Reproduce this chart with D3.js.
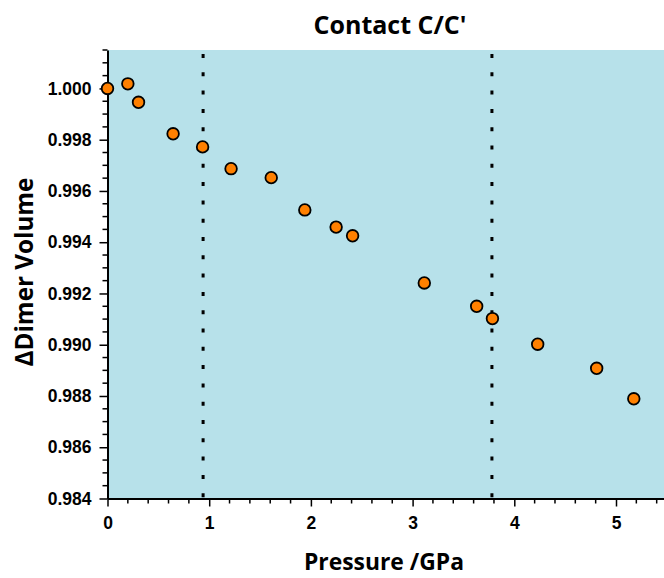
<!DOCTYPE html>
<html>
<head>
<meta charset="utf-8">
<script src="https://cdn.jsdelivr.net/npm/d3@7/dist/d3.min.js"></script>
<style>
html,body{margin:0;padding:0;background:#fff;overflow:hidden;}
svg{display:block;}
</style>
</head>
<body>
<svg id="chart" width="664" height="578"></svg>
<script>
const pressure = [0, 0.20, 0.305, 0.645, 0.935, 1.215, 1.61, 1.94, 2.248, 2.41, 3.115, 3.63, 3.785, 4.23, 4.81, 5.175];
const dimerVolume = [1.0000, 1.00018, 0.99946, 0.99823, 0.99772, 0.99687, 0.99652, 0.99526, 0.99459, 0.99425, 0.99241, 0.99150, 0.99102, 0.99002, 0.98908, 0.98789];
const phaseBoundaries = [0.94, 3.78];
const xTicks = [0, 1, 2, 3, 4, 5];
const yTicks = [0.984, 0.986, 0.988, 0.990, 0.992, 0.994, 0.996, 0.998, 1.000];
const titleText = "Contact C/C'";
const xLabel = "Pressure /GPa";
const yLabel = "\u0394Dimer Volume";

const svg = d3.select("#chart");
const mLeft = 107.5, mTop = 50, mBottom = 498.5;
const x = d3.scaleLinear().domain([0, 5.5]).range([mLeft, mLeft + 5.5 * 101.7]);
const y = d3.scaleLinear().domain([0.984, 1.0015]).range([mBottom, mTop]);

// background
svg.append("rect")
  .attr("x", x(0)).attr("y", y(1.0015))
  .attr("width", x(5.5) - x(0)).attr("height", y(0.984) - y(1.0015))
  .attr("fill", "#b7e1ea");

// dotted vertical lines
svg.selectAll("line.vb").data(phaseBoundaries).enter().append("line")
  .attr("class", "vb")
  .attr("x1", d => x(d)).attr("x2", d => x(d))
  .attr("y1", y(1.0015) + 4).attr("y2", y(0.984))
  .attr("stroke", "#000").attr("stroke-width", 3)
  .attr("stroke-dasharray", "4,14.3");

// minor ticks
const xMinor = d3.range(0, 5.51, 0.2).map(v => +v.toFixed(2)).filter(v => Math.abs(v - Math.round(v)) > 1e-6);
const yMinor = d3.range(0.984, 1.0016, 0.0005).map(v => +v.toFixed(4)).filter(v => Math.abs(v*500 - Math.round(v*500)) > 1e-6);

const xAxis = svg.append("g").attr("transform", `translate(0,${mBottom})`);
xAxis.call(d3.axisBottom(x).tickValues(xTicks).tickFormat(d3.format("d")).tickSize(8).tickPadding(10).tickSizeOuter(0));
xAxis.append("g").selectAll("line").data(xMinor).enter().append("line")
  .attr("x1", d => x(d)).attr("x2", d => x(d)).attr("y1", 0).attr("y2", 5)
  .attr("stroke", "#000").attr("stroke-width", 1.5);

const yAxis = svg.append("g").attr("transform", `translate(${mLeft},0)`);
yAxis.call(d3.axisLeft(y).tickValues(yTicks).tickFormat(d3.format(".3f")).tickSize(8).tickPadding(8).tickSizeOuter(0));
yAxis.append("g").selectAll("line").data(yMinor).enter().append("line")
  .attr("y1", d => y(d)).attr("y2", d => y(d)).attr("x1", 0).attr("x2", -5)
  .attr("stroke", "#000").attr("stroke-width", 1.5);

[xAxis, yAxis].forEach(g => {
  g.select(".domain").attr("stroke", "#000").attr("stroke-width", 2);
  g.selectAll(".tick line").attr("stroke", "#000").attr("stroke-width", 1.5);
  g.selectAll(".tick text")
    .attr("font-family", "'Liberation Sans', Arial, sans-serif")
    .attr("font-weight", "bold").attr("font-size", 17.5).attr("fill", "#000");
});

// points
svg.append("g").selectAll("circle").data(pressure.map((p, i) => [p, dimerVolume[i]])).enter()
  .append("circle")
  .attr("cx", d => x(d[0])).attr("cy", d => y(d[1])).attr("r", 5.8)
  .attr("fill", "#ff8000").attr("stroke", "#000").attr("stroke-width", 1.8);

// titles, sized to the reference widths
const tFont = "'Open Sans', Lato, sans-serif";
function fitText(sel, target) {
  const w = sel.node().getComputedTextLength();
  sel.attr("font-size", 20 * target / w);
}
const t1 = svg.append("text").attr("x", 390).attr("y", 34).attr("text-anchor", "middle")
  .attr("font-family", tFont).attr("font-weight", "bold").attr("font-size", 20).text(titleText);
fitText(t1, 153);
const t2 = svg.append("text").attr("x", 384).attr("y", 570).attr("text-anchor", "middle")
  .attr("font-family", tFont).attr("font-weight", "bold").attr("font-size", 20).text(xLabel);
fitText(t2, 160);
const t3 = svg.append("text").attr("transform", "translate(33,272) rotate(-90)").attr("text-anchor", "middle")
  .attr("font-family", tFont).attr("font-weight", "bold").attr("font-size", 20).text(yLabel);
fitText(t3, 189);
</script>
</body>
</html>
